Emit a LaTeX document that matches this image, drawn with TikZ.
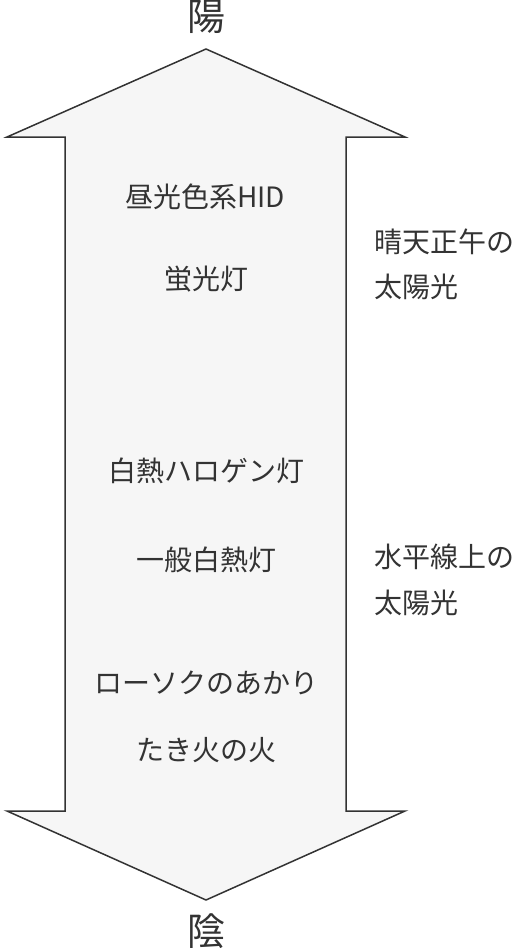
\documentclass[tikz,border=0pt]{standalone}
\usepackage{fontspec}
\setmainfont{Noto Sans CJK JP}
\usetikzlibrary{positioning}
\definecolor{inkgray}{RGB}{51, 51, 51}
\definecolor{arrowgray}{RGB}{246, 246, 246}
\tikzstyle{lampText} = [text=inkgray, inner sep=0pt,
	font=\fontsize{28}{32}\selectfont]
\tikzstyle{sunText} = [lampText, anchor=west]
\tikzstyle{poleText} = [text=inkgray, inner sep=0pt,
	font=\fontsize{38}{42}\selectfont]
\tikzstyle{bigArrow} = [draw=inkgray, line width=1.5pt, fill=arrowgray]

\begin{document}
\begin{tikzpicture}[x=1pt, y=-1pt]
  \useasboundingbox (0,0) rectangle (520,948);
  \draw [bigArrow] (206,49) -- (405,137) -- (346,137) -- (346,811)
    -- (405,811) -- (206,900) -- (7,811) -- (65,811) -- (65,137)
    -- (7,137) -- cycle;

  \node (YANG) [poleText] at (206,17) {陽};
  \node (YIN)  [poleText] at (206,931) {陰};

  \node (HID)  [lampText] at (205,197) {昼光色系HID};
  \node (FLUO) [lampText] at (206,279) {蛍光灯};
  \node (HALO) [lampText] at (206,471) {白熱ハロゲン灯};
  \node (BULB) [lampText] at (206,560) {一般白熱灯};
  \node (CNDL) [lampText] at (206,683) {ローソクのあかり};
  \node (FIRE) [lampText] at (206,750) {たき火の火};

  \node (NOON)  [sunText] at (374,242) {晴天正午の};
  \node (NOON2) [sunText] at (374,287) {太陽光};
  \node (HRZN)  [sunText] at (374,557) {水平線上の};
  \node (HRZN2) [sunText] at (374,603) {太陽光};

\end{tikzpicture}
\end{document}
